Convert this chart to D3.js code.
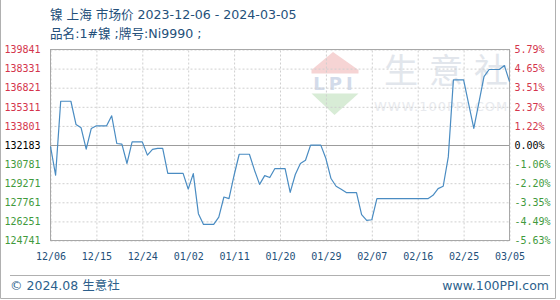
<!DOCTYPE html>
<html>
<head>
<meta charset="utf-8">
<script src="https://cdn.jsdelivr.net/npm/d3@7"></script>
<style>
  body { margin: 0; background: #fff; }
  svg { display: block; }
  .axis text { font-family: "DejaVu Sans Mono", monospace; font-size: 10px; }
</style>
</head>
<body>
<svg id="chart" width="560" height="300"></svg>
<script>
// Nickel spot price, Shanghai, one value per calendar day from 2023-12-06
const startDate = "2023-12-06";
const prices = [
  132183, 129900, 135750, 135750, 135750, 133920, 133650, 131960, 133600, 133810,
  133810, 133810, 134600, 132410, 132360, 130830, 132540, 132540, 132540, 131490,
  131940, 132020, 132020, 130050, 130050, 130050, 130050, 128800, 130030, 126860,
  126010, 126010, 126010, 126590, 128180, 128050, 129900, 131560, 131560, 131560,
  130300, 129180, 129870, 129720, 130430, 130430, 130430, 128540, 129960, 130830,
  131090, 132280, 132280, 132280, 131220, 129640, 129030, 128790, 128530, 128530,
  128530, 126780, 126330, 126380, 128050, 128050, 128050, 128050, 128050, 128050,
  128050, 128050, 128050, 128050, 128050, 128310, 128840, 129030, 131350, 137440,
  137440, 137440, 135530, 133600, 135650, 137700, 138260, 138260, 138260, 138570,
  137300
];

// axis ticks
const leftTickLabels = ["139841", "138331", "136821", "135311", "133801", "132183",
  "130781", "129271", "127761", "126251", "124741"];
const rightTickLabels = ["5.79%", "4.65%", "3.51%", "2.37%", "1.22%", "0.00%",
  "-1.06%", "-2.20%", "-3.35%", "-4.49%", "-5.63%"];
const xTickDates = ["2023-12-06", "2023-12-15", "2023-12-24", "2024-01-02", "2024-01-11",
  "2024-01-20", "2024-01-29", "2024-02-07", "2024-02-16", "2024-02-25", "2024-03-05"];

const titleText = "镍 上海 市场价 2023-12-06 - 2024-03-05";
const subTitleText = "品名:1#镍 ;牌号:Ni9990 ;";

const parseDate = d3.timeParse("%Y-%m-%d");
const start = parseDate(startDate);
const data = prices.map((p, i) => ({ date: d3.timeDay.offset(start, i), price: p }));

const plotLeft = 50.5, plotRight = 509.5, plotTop = 49.5, plotBottom = 240.5;
const red = "#d4354c", green = "#3f9a3c", ink = "#24507a";

const svg = d3.select("#chart");

// scales
const x = d3.scaleTime()
  .domain([parseDate(xTickDates[0]), parseDate(xTickDates[xTickDates.length - 1])])
  .range([plotLeft, plotRight]);
const yMax = +leftTickLabels[0], yMin = +leftTickLabels[leftTickLabels.length - 1];
const y = d3.scaleLinear().domain([yMin, yMax]).range([plotBottom, plotTop]);
const gridVals = d3.range(leftTickLabels.length)
  .map(i => yMax - i * (yMax - yMin) / (leftTickLabels.length - 1));
const mid = Math.floor(gridVals.length / 2);
const tickColor = i => i < mid ? red : (i === mid ? "#000" : green);

// watermark
const wm = svg.append("g").attr("class", "watermark");
wm.append("path")
  .attr("d", "M333,52 L311.5,70 L311.5,73.5 L358.5,73.5 L358.5,70 Z")
  .attr("fill", "#f6d4d4");
wm.append("text")
  .attr("x", 335).attr("y", 90)
  .attr("text-anchor", "middle")
  .attr("font-family", "DejaVu Sans")
  .attr("font-weight", "bold")
  .attr("font-size", 18)
  .attr("letter-spacing", 4)
  .attr("fill", "#d3dbea")
  .text("LPI");
wm.append("path")
  .attr("d", "M311.5,93.5 L358.5,93.5 L334.5,115 Z")
  .attr("fill", "#d8ecd6");
wm.selectAll("text.wm-char")
  .data(["生", "意", "社"])
  .join("text")
  .attr("class", "wm-char")
  .attr("x", (d, i) => 384 + i * 45).attr("y", 83)
  .attr("font-family", "Noto Sans CJK SC")
  .attr("font-size", 34)
  .attr("fill", "#e2e6ec")
  .text(d => d);
wm.append("text")
  .attr("x", 374).attr("y", 111)
  .attr("font-family", "DejaVu Sans")
  .attr("font-size", 13)
  .attr("letter-spacing", 1)
  .attr("fill", "#e8eaee")
  .text("WWW.100PPI.COM");

// horizontal grid
svg.append("g")
  .attr("class", "grid")
  .attr("transform", `translate(${plotLeft},0)`)
  .call(d3.axisLeft(y).tickValues(gridVals).tickSize(-(plotRight - plotLeft)).tickFormat(""))
  .call(g => g.select(".domain").remove())
  .call(g => g.selectAll("line")
    .attr("stroke", (d, i) => i === mid ? "#9c9c9c" : "#cfcfcf")
    .attr("stroke-dasharray", (d, i) => i === mid ? null : "2,2"));

// vertical grid
svg.append("g")
  .attr("class", "grid")
  .attr("transform", `translate(0,${plotBottom})`)
  .call(d3.axisBottom(x).tickValues(xTickDates.map(parseDate)).tickSize(-(plotBottom - plotTop)).tickFormat(""))
  .call(g => g.select(".domain").remove())
  .call(g => g.selectAll("line").attr("stroke", "#cfcfcf").attr("stroke-dasharray", "2,2"));

// plot frame
svg.append("rect")
  .attr("x", plotLeft).attr("y", plotTop)
  .attr("width", plotRight - plotLeft).attr("height", plotBottom - plotTop)
  .attr("fill", "none").attr("stroke", "#a8a8a8");

// left axis
svg.append("g")
  .attr("class", "axis")
  .attr("transform", `translate(${plotLeft},0)`)
  .call(d3.axisLeft(y).tickValues(gridVals).tickSize(0).tickPadding(10)
    .tickFormat((d, i) => leftTickLabels[i]))
  .call(g => g.select(".domain").remove())
  .call(g => g.selectAll("text").attr("fill", (d, i) => tickColor(i)));

// right axis
svg.append("g")
  .attr("class", "axis")
  .attr("transform", `translate(${plotRight},0)`)
  .call(d3.axisRight(y).tickValues(gridVals).tickSize(0).tickPadding(5)
    .tickFormat((d, i) => rightTickLabels[i]))
  .call(g => g.select(".domain").remove())
  .call(g => g.selectAll("text").attr("fill", (d, i) => tickColor(i)));

// bottom axis
svg.append("g")
  .attr("class", "axis")
  .attr("transform", `translate(0,${plotBottom})`)
  .call(d3.axisBottom(x).tickValues(xTickDates.map(parseDate)).tickSize(0).tickPadding(12)
    .tickFormat(d3.timeFormat("%m/%d")))
  .call(g => g.select(".domain").remove())
  .call(g => g.selectAll("text").attr("fill", ink));

// price line
const line = d3.line()
  .x(d => x(d.date))
  .y(d => y(d.price));

svg.append("path")
  .datum(data)
  .attr("fill", "none")
  .attr("stroke", "#4a8cc2")
  .attr("stroke-width", 1.2)
  .attr("stroke-linejoin", "round")
  .attr("d", line);

// titles
svg.append("text")
  .attr("x", 50).attr("y", 19)
  .attr("font-family", "DejaVu Sans, Noto Sans CJK SC")
  .attr("font-size", 12.6)
  .attr("fill", ink)
  .text(titleText);
svg.append("text")
  .attr("x", 50).attr("y", 37.5)
  .attr("font-family", "DejaVu Sans, Noto Sans CJK SC")
  .attr("font-size", 12.6)
  .attr("fill", ink)
  .text(subTitleText);

// footer
svg.append("line")
  .attr("x1", 10).attr("x2", 550)
  .attr("y1", 275.5).attr("y2", 275.5)
  .attr("stroke", "#b0b0b0");
svg.append("text")
  .attr("x", 10).attr("y", 290)
  .attr("font-family", "DejaVu Sans, Noto Sans CJK SC")
  .attr("font-size", 12.5)
  .attr("fill", "#2d5f8c")
  .text("© 2024.08 生意社");
svg.append("text")
  .attr("x", 549).attr("y", 290)
  .attr("text-anchor", "end")
  .attr("font-family", "DejaVu Sans")
  .attr("font-size", 12.5)
  .attr("fill", "#2d5f8c")
  .text("www.100PPI.com");

// outer frame
svg.append("path")
  .attr("d", "M0.5,0 V298.5 H555.5 V0")
  .attr("fill", "none")
  .attr("stroke", "#b0b0b0");
</script>
</body>
</html>
